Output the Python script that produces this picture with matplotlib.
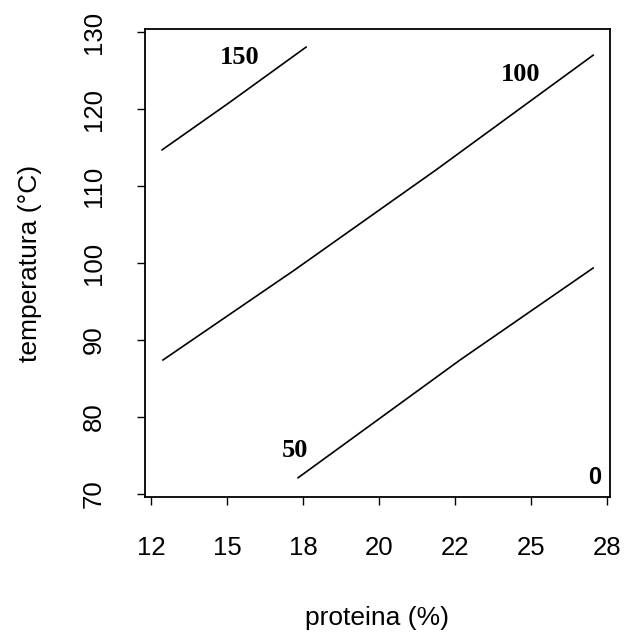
import matplotlib
matplotlib.use("Agg")
import matplotlib.pyplot as plt
import numpy as np

# contour levels and the points of each line
levels = ["150", "100", "50", "0"]

c150_x = [12.39, 14.77, 17.44]
c150_y = [114.7, 120.9, 128.05]

c100_x = [12.42, 17.0, 22.0, 27.51]
c100_y = [87.4, 99.0, 112.1, 127.0]

c50_x = [17.16, 22.84, 27.51]
c50_y = [72.1, 87.4, 99.35]

xtick_labels = ["12", "15", "18", "20", "22", "25", "28"]
yticks = [70, 80, 90, 100, 110, 120, 130]

fig = plt.figure(figsize=(6.26, 6.35), dpi=100)
ax = fig.add_axes([0.2316, 0.2173, 0.7428, 0.737])

for xs, ys in [(c150_x, c150_y), (c100_x, c100_y), (c50_x, c50_y)]:
    ax.plot(xs, ys, color="black", linewidth=1.2)

# contour labels
label_pos = [(15.12, 126.75), (24.95, 124.5), (17.05, 75.7), (27.58, 72.1)]
for lab, (lx, ly) in zip(levels, label_pos):
    if lab == "0":
        ax.text(lx, ly, lab, ha="center", va="center", fontsize=17,
                family="Liberation Sans", fontweight="bold")
    else:
        ax.text(lx, ly, lab, ha="center", va="center", fontsize=19,
                family="Liberation Serif", fontweight="bold")

ax.set_xlim(11.79, 28.1)
ax.set_ylim(69.6, 130.4)
ax.set_xticks(np.linspace(12, 28, len(xtick_labels)))
ax.set_xticklabels(xtick_labels)
ax.set_yticks(yticks)
ax.set_yticklabels([str(v) for v in yticks], rotation=90, va="center")

for lbl in ax.get_xticklabels() + ax.get_yticklabels():
    lbl.set_family("Liberation Sans")
    lbl.set_fontsize(18.5)

ax.tick_params(direction="out", length=6, width=1.0, pad=22)
for sp in ax.spines.values():
    sp.set_linewidth(1.3)

ax.set_xlabel("proteina (%)", family="Liberation Sans", fontsize=19)
ax.set_ylabel("temperatura (°C)", family="Liberation Sans", fontsize=19)
ax.xaxis.set_label_coords(0.5, -0.233)
ax.yaxis.set_label_coords(-0.222, 0.5)

fig.savefig("out.png", dpi=100)
